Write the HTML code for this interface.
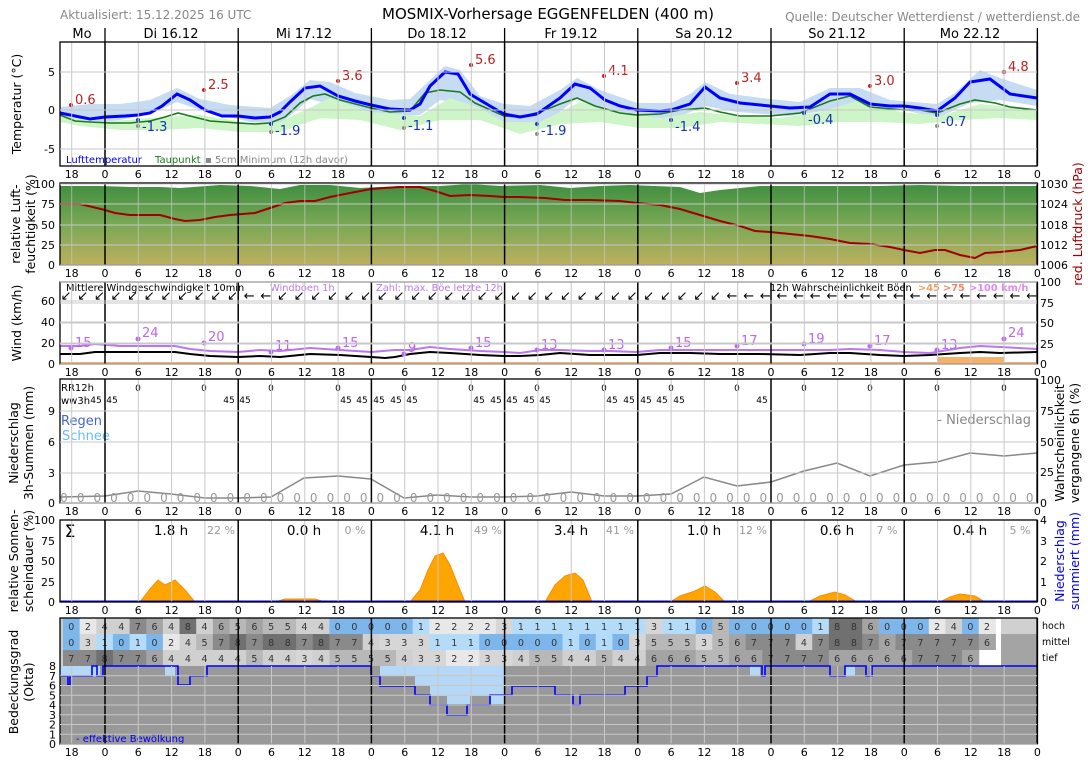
<!DOCTYPE html>
<html><head><meta charset="utf-8"><style>
html,body{margin:0;padding:0;background:#fff;}
svg{display:block;font-family:"DejaVu Sans","Liberation Sans",sans-serif;}
</style></head><body>
<svg id="s" width="1088" height="763" viewBox="0 0 1088 763" xmlns="http://www.w3.org/2000/svg">
<defs>
<linearGradient id="hg" x1="0" y1="0" x2="0" y2="1">
<stop offset="0" stop-color="#3f8f3f"/><stop offset="0.5" stop-color="#7aa855"/><stop offset="1" stop-color="#bcb05e"/>
</linearGradient>
</defs>
<g id="bg"></g>
<!-- header -->
<text x="60" y="19" font-size="12" fill="#888">Aktualisiert: 15.12.2025 16 UTC</text>
<text x="548" y="19" font-size="15" text-anchor="middle" fill="#000">MOSMIX-Vorhersage EGGENFELDEN (400 m)</text>
<text x="1080" y="21" font-size="12" text-anchor="end" fill="#888">Quelle: Deutscher Wetterdienst / wetterdienst.de</text>
<g font-size="13" text-anchor="middle">
<text x="82" y="38">Mo</text><text x="171" y="38">Di 16.12</text><text x="304" y="38">Mi 17.12</text><text x="437" y="38">Do 18.12</text><text x="571" y="38">Fr 19.12</text><text x="704" y="38">Sa 20.12</text><text x="837" y="38">So 21.12</text><text x="970" y="38">Mo 22.12</text>
</g>

<!-- Temperature panel -->
<polygon fill="#c6dcf2" points="60,107 90,104 120,104 150,100 177,88 200,99 230,105 270,108 290,96 310,80 330,82 355,93 390,100 410,99 430,80 445,66 460,70 480,96 504,104 530,106 560,90 577,78 600,90 637,103 671,103 690,94 705,82 730,94 770,99 800,102 830,88 860,88 890,100 937,104 955,93 980,70 1000,78 1037,90 1037,106 1000,100 970,103 937,118 904,110 870,110 830,110 790,116 737,112 705,106 671,120 640,116 600,108 577,98 545,124 504,124 460,104 440,100 420,115 390,116 350,110 310,99 280,124 250,122 200,110 177,102 150,114 120,120 90,124 60,116"/>
<polygon fill="#cdf5c8" points="60,112 100,122 150,118 200,115 250,123 280,122 330,98 370,112 420,116 450,98 480,108 504,122 540,122 580,102 620,112 660,118 700,112 740,116 780,118 820,112 860,100 900,112 940,116 980,104 1037,110 1037,120 1000,118 960,120 920,124 880,122 840,122 800,126 760,124 720,122 680,128 640,128 600,122 560,124 520,134 480,120 440,120 400,130 360,120 320,118 280,132 240,132 200,128 160,130 120,130 80,126 60,122"/>
<polyline fill="none" stroke="#1a7a1a" stroke-width="1.6" points="60,115 75,121 90,122 110,123 130,123 150,121 165,117 178,113 190,116 210,121 238,123 255,124 270,123 285,117 300,103 313,96 325,94 340,100 371,108 390,112 410,111 425,93 440,90 460,92 475,103 504,116 520,117 540,112 560,104 577,98 595,106 620,113 637,115 660,114 680,110 705,108 720,112 740,116 770,116 800,113 830,101 850,96 870,107 904,110 920,110 937,113 960,104 975,100 995,103 1010,107 1037,110"/>
<polyline fill="none" stroke="#0000ff" stroke-width="3" points="60,113 75,116 90,119 105,117 125,116 138,115 150,113 162,106 177,94 190,100 205,110 222,116 238,116 255,118 270,117 280,112 290,102 305,88 320,86 338,96 355,101 371,105 390,109 410,110 420,104 430,86 445,72 458,74 470,94 490,106 504,114 520,117 537,114 560,98 575,84 590,88 605,100 620,106 637,110 660,111 671,110 690,104 705,87 720,98 740,103 770,106 790,108 810,107 830,94 850,94 870,104 890,106 904,106 920,108 937,111 955,98 970,82 990,79 1010,94 1037,98"/>
<g font-size="13">
<circle cx="71" cy="105" r="2" fill="#b22"/><text x="75" y="104" fill="#b22">0.6</text>
<circle cx="204" cy="90" r="2" fill="#b22"/><text x="208" y="89" fill="#b22">2.5</text>
<circle cx="338" cy="81" r="2" fill="#b22"/><text x="342" y="80" fill="#b22">3.6</text>
<circle cx="471" cy="65" r="2" fill="#b22"/><text x="475" y="64" fill="#b22">5.6</text>
<circle cx="604" cy="76" r="2" fill="#b22"/><text x="608" y="75" fill="#b22">4.1</text>
<circle cx="737" cy="83" r="2" fill="#b22"/><text x="741" y="82" fill="#b22">3.4</text>
<circle cx="870" cy="86" r="2" fill="#b22"/><text x="874" y="85" fill="#b22">3.0</text>
<circle cx="1004" cy="72" r="2" fill="#b22"/><text x="1008" y="71" fill="#b22">4.8</text>
<circle cx="138" cy="120" r="2" fill="#1133bb"/><text x="142" y="131" fill="#1133bb">-1.3</text><circle cx="138" cy="126" r="2" fill="#888"/>
<circle cx="271" cy="124" r="2" fill="#1133bb"/><text x="275" y="135" fill="#1133bb">-1.9</text><circle cx="271" cy="132" r="2" fill="#888"/>
<circle cx="404" cy="118" r="2" fill="#1133bb"/><text x="408" y="130" fill="#1133bb">-1.1</text><circle cx="404" cy="128" r="2" fill="#888"/>
<circle cx="537" cy="124" r="2" fill="#1133bb"/><text x="541" y="135" fill="#1133bb">-1.9</text><circle cx="537" cy="134" r="2" fill="#888"/>
<circle cx="671" cy="120" r="2" fill="#1133bb"/><text x="675" y="131" fill="#1133bb">-1.4</text>
<circle cx="804" cy="113" r="2" fill="#1133bb"/><text x="808" y="124" fill="#1133bb">-0.4</text>
<circle cx="937" cy="115" r="2" fill="#1133bb"/><text x="941" y="126" fill="#1133bb">-0.7</text><circle cx="937" cy="126" r="2" fill="#888"/>
</g>
<line x1="60" y1="110" x2="1037" y2="110" stroke="#000" stroke-width="1"/>
<g font-size="10"><text x="66" y="163" fill="#0000ee">Lufttemperatur</text><text x="155" y="163" fill="#1a7a1a">Taupunkt</text><text x="205" y="163" fill="#888">▪ 5cm Minimum (12h davor)</text></g>

<!-- Humidity panel -->
<polygon fill="url(#hg)" points="60,186 100,186 130,187 160,187 180,188 220,185 250,186 280,189 300,185 330,185 360,188 400,186 440,186 470,184 500,186 540,185 570,188 600,186 630,185 680,187 700,193 720,190 760,186 800,186 840,186 880,186 920,185 960,186 1000,186 1037,186 1037,265 60,265"/>
<polyline fill="none" stroke="#a00000" stroke-width="2" points="60,204 80,204 105,210 115,213 130,215 160,215 175,219 185,221 200,220 215,217 230,215 255,213 270,208 285,203 300,201 315,201 330,197 350,193 371,189 385,188 400,187 420,187 435,191 450,196 470,195 490,196 504,197 520,197 545,198 565,200 590,200 620,201 637,203 660,205 680,209 700,215 720,221 740,226 755,231 770,232 790,234 810,236 830,239 850,243 870,244 890,247 904,250 920,253 935,250 945,250 960,255 975,258 985,253 1000,252 1020,250 1037,246"/>

<!-- Wind panel -->
<polyline fill="none" stroke="#bb77ee" stroke-width="2" points="60,346 80,346 95,344 120,346 140,346 175,346 190,349 210,351 238,352 260,350 280,351 310,348 340,350 371,352 395,350 410,350 430,347 450,349 480,351 504,352 520,353 540,350 560,350 590,351 610,351 637,352 660,350 690,350 720,350 760,350 800,350 830,350 850,349 880,350 904,352 930,353 960,348 980,346 1000,347 1037,349"/>
<polyline fill="none" stroke="#000" stroke-width="2" points="60,354 80,354 95,352 120,352 140,352 175,352 190,354 210,356 238,357 260,356 280,357 310,354 340,355 371,357 385,358 395,357 410,354 430,352 450,353 480,355 504,356 520,356 540,355 560,353 590,355 637,355 660,353 690,353 720,354 760,354 800,355 830,353 850,353 880,355 904,356 930,355 960,353 980,352 1000,353 1037,352"/>
<rect x="937" y="357" width="67" height="7" fill="#f6b26b"/>
<line x1="60" y1="363" x2="1037" y2="363" stroke="#f6b26b" stroke-width="2"/>
<g font-size="13" fill="#bb66ee">
<circle cx="71" cy="348" r="2.5"/><text x="75" y="347">15</text>
<circle cx="138" cy="339" r="2.5"/><text x="142" y="337">24</text>
<circle cx="204" cy="343" r="2.5"/><text x="208" y="341">20</text>
<circle cx="271" cy="352" r="2.5"/><text x="275" y="350">11</text>
<circle cx="338" cy="348" r="2.5"/><text x="342" y="347">15</text>
<circle cx="404" cy="354" r="2.5"/><text x="408" y="352">9</text>
<circle cx="471" cy="348" r="2.5"/><text x="475" y="347">15</text>
<circle cx="537" cy="350" r="2.5"/><text x="541" y="349">13</text>
<circle cx="604" cy="350" r="2.5"/><text x="608" y="349">13</text>
<circle cx="671" cy="348" r="2.5"/><text x="675" y="347">15</text>
<circle cx="737" cy="346" r="2.5"/><text x="741" y="345">17</text>
<circle cx="804" cy="344" r="2.5"/><text x="808" y="343">19</text>
<circle cx="870" cy="346" r="2.5"/><text x="874" y="345">17</text>
<circle cx="937" cy="350" r="2.5"/><text x="941" y="349">13</text>
<circle cx="1004" cy="339" r="2.5"/><text x="1008" y="337">24</text>
</g>
<g font-size="9.8"><text x="66" y="291" fill="#000">Mittlere Windgeschwindigkeit 10min</text><text x="270" y="291" fill="#bb77ee">Windböen 1h</text><text x="376" y="291" fill="#bb77ee">Zahl: max. Böe letzte 12h</text>
<text x="770" y="291" fill="#000">12h Wahrscheinlichkeit Böen</text><text x="918" y="291" fill="#f0a060" font-weight="bold">&gt;45</text><text x="943" y="291" fill="#ee8866" font-weight="bold">&gt;75</text><text x="969" y="291" fill="#dd88ee" font-weight="bold">&gt;100 km/h</text></g>
<g id="arrows" font-size="13" fill="#000"></g>

<!-- Precip panel -->
<polyline fill="none" stroke="#888" stroke-width="1.5" points="60,497 105,496 138,491 171,494 205,498 238,498 271,497 304,478 338,476 371,479 404,498 437,495 471,497 504,497 537,496 571,492 604,496 637,496 671,494 704,477 737,486 771,482 804,471 837,463 870,476 904,465 937,462 970,453 1004,456 1037,453"/>
<g font-size="10" fill="#000"><text x="61" y="391">RR12h</text><text x="61" y="404">ww3h</text></g>
<g id="pr"></g>
<g font-size="13"><text x="61" y="425" fill="#4466cc">Regen</text><text x="62" y="440" fill="#66bbff">Schnee</text><text x="1031" y="424" fill="#888" text-anchor="end">- Niederschlag</text></g>

<!-- Sunshine panel -->
<g fill="#ffa500" stroke="#ff8c00" stroke-width="1">
<polygon points="140,602 150,589 158,580 165,585 175,580 185,590 195,602"/>
<polygon points="275,602 285,599 300,599 315,599 325,602"/>
<polygon points="410,602 420,590 428,570 435,556 443,553 450,565 458,585 465,602"/>
<polygon points="545,602 555,585 565,576 575,573 583,580 592,602"/>
<polygon points="670,602 680,596 695,591 705,586 715,592 725,602"/>
<polygon points="808,602 820,596 835,592 845,595 857,602"/>
<polygon points="940,602 950,597 960,594 975,596 985,602"/>
</g>
<line x1="60" y1="601.5" x2="1037" y2="601.5" stroke="#0000ee" stroke-width="2"/>
<g font-size="13.5" text-anchor="middle"><text x="70" y="537" font-size="17">Σ</text>
<text x="171" y="535">1.8 h</text><text x="304" y="535">0.0 h</text><text x="437" y="535">4.1 h</text><text x="571" y="535">3.4 h</text><text x="704" y="535">1.0 h</text><text x="837" y="535">0.6 h</text><text x="970" y="535">0.4 h</text></g>
<g font-size="11" text-anchor="middle" fill="#999"><text x="221" y="534">22 %</text><text x="355" y="534">0 %</text><text x="488" y="534">49 %</text><text x="620" y="534">41 %</text><text x="753" y="534">12 %</text><text x="887" y="534">7 %</text><text x="1020" y="534">5 %</text></g>

<!-- Cloud panel -->
<g id="ct"></g>
<polygon fill="#999" points="60,666 1037,666 1037,744 60,744"/>
<polygon fill="#b4d8f6" points="60,666 100,666 100,676 60,676"/>
<polygon fill="#b4d8f6" points="380,666 504,666 504,704 490,704 490,696 470,696 470,704 447,704 447,696 430,696 430,686 415,686 415,676 380,676"/>
<polygon fill="#b4d8f6" points="165,666 175,666 175,676 165,676"/>
<polygon fill="#b4d8f6" points="750,666 760,666 760,676 750,676"/>
<polygon fill="#b4d8f6" points="845,666 855,666 855,676 845,676"/>
<g id="cgrid"></g>
<polyline fill="none" stroke="#0000ff" stroke-width="1.6" points="60,676 68,676 68,685 70,685 70,676 92,676 92,666 97,666 97,676 103,676 103,666 178,666 178,685 190,685 190,676 207,676 207,666 371,666 371,676 380,676 380,686 415,686 415,695 430,695 430,705 447,705 447,715 467,715 467,705 490,705 490,695 512,695 512,686 530,686 555,686 555,695 573,695 573,705 580,705 580,695 625,695 625,686 647,686 647,676 657,676 657,666 762,666 762,676 765,676 765,666 830,666 830,676 845,676 845,666 866,666 866,676 872,676 872,666 1037,666"/>
<text x="76" y="742" font-size="10" fill="#0000ee">- effektive Bewölkung</text>
<g font-size="9.5" fill="#000"><text x="1042" y="629">hoch</text><text x="1042" y="645">mittel</text><text x="1042" y="661">tief</text></g>

<g id="grid"></g>
<g id="ticks"></g>

<!-- axis titles -->
<g font-size="12.5" fill="#000">
<text transform="translate(21,104) rotate(-90)" text-anchor="middle">Temperatur (°C)</text>
<text transform="translate(20,224) rotate(-90)" text-anchor="middle">relative Luft-</text>
<text transform="translate(35,224) rotate(-90)" text-anchor="middle">feuchtigkeit (%)</text>
<text transform="translate(21,323) rotate(-90)" text-anchor="middle">Wind (km/h)</text>
<text transform="translate(18,443) rotate(-90)" text-anchor="middle">Niederschlag</text>
<text transform="translate(33,443) rotate(-90)" text-anchor="middle">3h-Summen (mm)</text>
<text transform="translate(18,561) rotate(-90)" text-anchor="middle">relative Sonnen-</text>
<text transform="translate(33,561) rotate(-90)" text-anchor="middle">scheindauer (%)</text>
<text transform="translate(18,682) rotate(-90)" text-anchor="middle">Bedeckungsgrad</text>
<text transform="translate(33,682) rotate(-90)" text-anchor="middle">(Okta)</text>
<text transform="translate(1082,224) rotate(-90)" text-anchor="middle" fill="#a00000">red. Luftdruck (hPa)</text>
<text transform="translate(1064,443) rotate(-90)" text-anchor="middle">Wahrscheinlichkeit</text>
<text transform="translate(1079,443) rotate(-90)" text-anchor="middle">vergangene 6h (%)</text>
<text transform="translate(1064,561) rotate(-90)" text-anchor="middle" fill="#0000ee">Niederschlag</text>
<text transform="translate(1079,561) rotate(-90)" text-anchor="middle" fill="#0000ee">summiert (mm)</text>
</g>
</svg>
<script>
(function(){
var NS="http://www.w3.org/2000/svg";
function el(p,t,a,txt){var e=document.createElementNS(NS,t);for(var k in a)e.setAttribute(k,a[k]);if(txt!==undefined)e.textContent=txt;document.getElementById(p).appendChild(e);return e;}
var X0=60,X1=1037;
function hx(k){return 71.7+33.3*k;}
var panels=[[42,166],[183,265],[282,364],[379,503],[520,602],[618,744]];
var hl=["18","0","6","12"];
panels.forEach(function(p,i){
  for(var k=0;k<30;k++){var x=hx(k);if(k%4==1)continue;
    el("grid","line",{x1:x,y1:(i==5?666:p[0]),x2:x,y2:p[1],stroke:i==1?"rgba(200,200,200,0.7)":"#c8c8c8","stroke-width":1});}
  for(var k=1;k<30;k+=4){var x=hx(k);el("grid","line",{x1:x,y1:p[0],x2:x,y2:p[1],stroke:"#000","stroke-width":1.5});}
  el("grid","rect",{x:X0,y:p[0],width:X1-X0,height:p[1]-p[0],fill:"none",stroke:"#000","stroke-width":1.3});
  var ty=p[1]+12;
  for(var k=0;k<30;k++){var x=hx(k);el("ticks","text",{x:x,y:ty,"font-size":11,"text-anchor":"middle"},hl[k%4]);}
});
for(var k=1;k<30;k+=4){el("grid","line",{x1:hx(k),y1:28,x2:hx(k),y2:42,stroke:"#000","stroke-width":1.3});}
function hg(y,i){el("grid","line",{x1:X0,y1:y,x2:X1,y2:y,stroke:"#c8c8c8","stroke-width":1});}
function yl(y,t,side,col){el("ticks","text",{x:side?X1+3:X0-5,y:y+4,"font-size":11,"text-anchor":side?"start":"end",fill:col||"#000"},t);}
[[72,"5"],[110,"0"],[149,"-5"]].forEach(function(a){hg(a[0]);yl(a[0],a[1]);});
[[184,"100"],[204,"75"],[225,"50"],[245,"25"],[265,"0"]].forEach(function(a){hg(a[0]);yl(a[0],a[1]);});
[[184,"1030"],[204,"1024"],[225,"1018"],[245,"1012"],[265,"1006"]].forEach(function(a){yl(a[0],a[1],1);});
[[301,"60"],[322,"40"],[343,"20"],[364,"0"]].forEach(function(a){hg(a[0]);yl(a[0],a[1]);});
[[282,"100"],[303,"75"],[323,"50"],[344,"25"],[364,"0"]].forEach(function(a){hg(a[0]);yl(a[0],a[1],1);});
[[411,"9"],[442,"6"],[473,"3"],[503,"0"]].forEach(function(a){hg(a[0]);yl(a[0],a[1]);});
[[380,"100"],[411,"75"],[442,"50"],[472,"25"],[503,"0"]].forEach(function(a){yl(a[0],a[1],1);});
[[520,"100"],[541,"75"],[561,"50"],[582,"25"],[602,"0"]].forEach(function(a){yl(a[0],a[1]);});
[[520,"4"],[541,"3"],[561,"2"],[582,"1"],[602,"0"]].forEach(function(a){yl(a[0],a[1],1);});
for(var o=0;o<=8;o++){var y=744-9.75*o;if(o<8)hg(y);el("ticks","text",{x:56,y:y+4,"font-size":11,"text-anchor":"end"},String(o));}
var arr="↙↙↙↙↙↙↙↙↙↙↙←←↙↙↙↙↙↙↙↙↙↙↙↙↙↙↙↙↙↙↙↙↙↙↙↙↙↙↙←←←←←←←←←←←←←←←←←←←↙↙←↙←←←↖↗";
for(var i=0;i<59;i++){var x=66+16.65*i;if(x>1032)break;el("arrows","text",{x:x,y:300,"text-anchor":"middle"},arr.charAt(i)||"←");}
for(var i=0;i<59;i++){var x=64+16.65*i;if(x>1034)break;el("pr","text",{x:x,y:502,"font-size":12,"text-anchor":"middle",fill:"#999"},"0");}
[138,204,271,338,404,471,537,604,671,737,804,870,937,1004].forEach(function(x){el("pr","text",{x:x,y:391,"font-size":9,"text-anchor":"middle"},"0");});
[96,112,229,245,346,362,379,396,412,479,496,512,529,545,612,629,646,662,679,762].forEach(function(x){el("pr","text",{x:x,y:403,"font-size":9,"text-anchor":"middle"},"45");});
var rows=["02447648465655440000012222311111111311050000018860002402","03101024578788787743331110000010103555356777478876777776","7787764444454434555543322334554454466655667777666667776"];
function col(d,r){d=+d;return ["#7db6ea","#b4dcf8","#e8e8e8","#d6d6d6","#d0d0d0","#b8b8b8","#a4a4a4","#8a8a8a","#707070"][d];}
rows.forEach(function(s,r){var y=618+16*r;
  for(var i=0;i<s.length&&i<59;i++){var x=63+16.65*i;if(x>1037)break;var w=Math.min(16.65,1037-x);
    el("ct","rect",{x:x,y:y,width:w+0.5,height:16,fill:col(s[i])});
    el("ct","text",{x:x+8.3,y:y+12,"font-size":9.5,"text-anchor":"middle",fill:"#333"},s[i]);}
  el("ct","rect",{x:60,y:y,width:3,height:16,fill:"#ccc"});
  el("ct","rect",{x:1001,y:y,width:36,height:16,fill:r==0?"#d0d0d0":"#a4a4a4"});
});
})();
</script>
</body></html>
